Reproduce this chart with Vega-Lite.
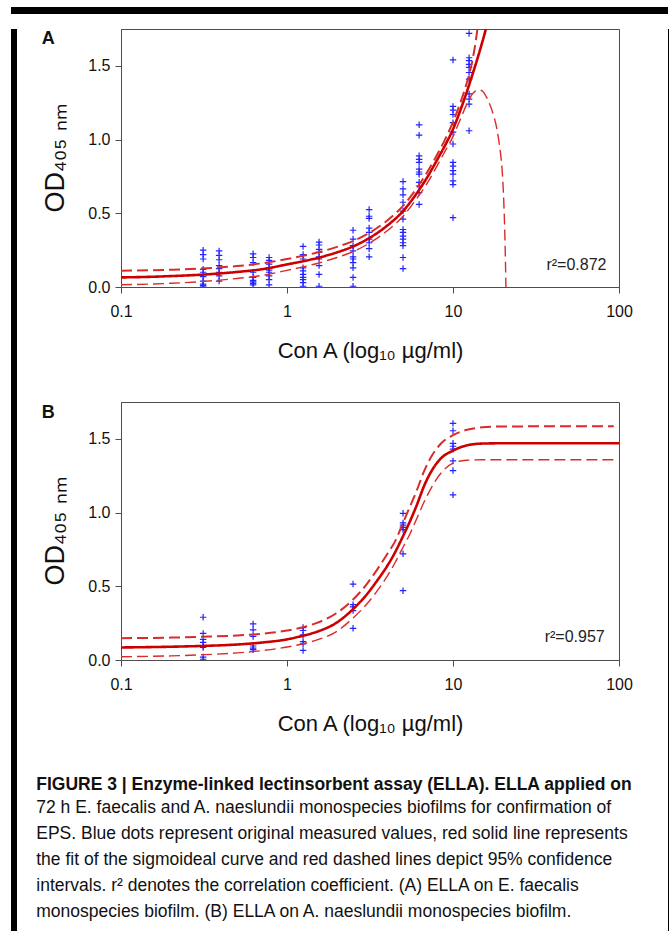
{
  "$schema": "https://vega.github.io/schema/vega-lite/v6.json",
  "padding": {"left": 11, "top": 7, "right": 0, "bottom": 0},
  "background": "white",
  "config": {
    "font": "Liberation Sans",
    "view": {"stroke": "#4d4d4d", "strokeWidth": 1},
    "axis": {"grid": false, "domainColor": "#4d4d4d", "tickColor": "#4d4d4d", "tickSize": 6, "labelFont": "Liberation Sans", "labelFontSize": 16, "labelColor": "#111111", "titleFont": "Liberation Sans", "titleFontWeight": "normal", "titleColor": "#111111", "labelFlush": false}
  },
  "datasets": {
    "A_pts": [
      {"x":0.3125,"y":0.25},{"x":0.3125,"y":0.22},{"x":0.3125,"y":0.19},{"x":0.3125,"y":0.12},{"x":0.3125,"y":0.10},{"x":0.3125,"y":0.07},{"x":0.3125,"y":0.04},{"x":0.3125,"y":0.02},{"x":0.3125,"y":0.01},{"x":0.3125,"y":0.0},
      {"x":0.39,"y":0.245},{"x":0.39,"y":0.215},{"x":0.39,"y":0.185},{"x":0.39,"y":0.145},{"x":0.39,"y":0.125},{"x":0.39,"y":0.10},{"x":0.39,"y":0.075},{"x":0.39,"y":0.04},
      {"x":0.625,"y":0.225},{"x":0.625,"y":0.20},{"x":0.625,"y":0.165},{"x":0.625,"y":0.10},{"x":0.625,"y":0.065},{"x":0.625,"y":0.045},{"x":0.625,"y":0.035},{"x":0.625,"y":0.025},{"x":0.625,"y":0.015},
      {"x":0.78,"y":0.20},{"x":0.78,"y":0.18},{"x":0.78,"y":0.155},{"x":0.78,"y":0.13},{"x":0.78,"y":0.115},{"x":0.78,"y":0.10},{"x":0.78,"y":0.075},{"x":0.78,"y":0.05},{"x":0.78,"y":0.015},
      {"x":1.25,"y":0.275},{"x":1.25,"y":0.22},{"x":1.25,"y":0.19},{"x":1.25,"y":0.13},{"x":1.25,"y":0.11},{"x":1.25,"y":0.085},{"x":1.25,"y":0.065},{"x":1.25,"y":0.05},{"x":1.25,"y":0.03},{"x":1.25,"y":0.005},
      {"x":1.56,"y":0.305},{"x":1.56,"y":0.285},{"x":1.56,"y":0.255},{"x":1.56,"y":0.235},{"x":1.56,"y":0.205},{"x":1.56,"y":0.19},{"x":1.56,"y":0.145},{"x":1.56,"y":0.085},{"x":1.56,"y":0.005},
      {"x":2.5,"y":0.385},{"x":2.5,"y":0.325},{"x":2.5,"y":0.28},{"x":2.5,"y":0.245},{"x":2.5,"y":0.205},{"x":2.5,"y":0.19},{"x":2.5,"y":0.165},{"x":2.5,"y":0.13},{"x":2.5,"y":0.065},{"x":2.5,"y":0.005},
      {"x":3.125,"y":0.525},{"x":3.125,"y":0.48},{"x":3.125,"y":0.465},{"x":3.125,"y":0.40},{"x":3.125,"y":0.37},{"x":3.125,"y":0.325},{"x":3.125,"y":0.30},{"x":3.125,"y":0.26},{"x":3.125,"y":0.205},
      {"x":5,"y":0.715},{"x":5,"y":0.665},{"x":5,"y":0.625},{"x":5,"y":0.575},{"x":5,"y":0.515},{"x":5,"y":0.46},{"x":5,"y":0.39},{"x":5,"y":0.37},{"x":5,"y":0.345},{"x":5,"y":0.325},{"x":5,"y":0.30},{"x":5,"y":0.28},{"x":5,"y":0.20},{"x":5,"y":0.125},
      {"x":6.25,"y":1.10},{"x":6.25,"y":1.03},{"x":6.25,"y":0.89},{"x":6.25,"y":0.865},{"x":6.25,"y":0.845},{"x":6.25,"y":0.80},{"x":6.25,"y":0.78},{"x":6.25,"y":0.765},{"x":6.25,"y":0.71},{"x":6.25,"y":0.685},{"x":6.25,"y":0.64},{"x":6.25,"y":0.56},
      {"x":10,"y":1.54},{"x":10,"y":1.225},{"x":10,"y":1.20},{"x":10,"y":1.17},{"x":10,"y":1.115},{"x":10,"y":1.05},{"x":10,"y":0.97},{"x":10,"y":0.845},{"x":10,"y":0.82},{"x":10,"y":0.79},{"x":10,"y":0.765},{"x":10,"y":0.72},{"x":10,"y":0.695},{"x":10,"y":0.47},
      {"x":12.5,"y":1.72},{"x":12.5,"y":1.555},{"x":12.5,"y":1.535},{"x":12.5,"y":1.51},{"x":12.5,"y":1.49},{"x":12.5,"y":1.455},{"x":12.5,"y":1.41},{"x":12.5,"y":1.31},{"x":12.5,"y":1.275},{"x":12.5,"y":1.24},{"x":12.5,"y":1.06}
    ],
    "A_fit": [
      {"s":"fit","x":0.1,"y":0.065},{"s":"fit","x":0.15,"y":0.069},{"s":"fit","x":0.2,"y":0.074},{"s":"fit","x":0.3,"y":0.083},{"s":"fit","x":0.5,"y":0.102},{"s":"fit","x":0.7,"y":0.12},{"s":"fit","x":1,"y":0.153},{"s":"fit","x":1.5,"y":0.195},{"s":"fit","x":2,"y":0.235},{"s":"fit","x":2.5,"y":0.275},{"s":"fit","x":3,"y":0.32},{"s":"fit","x":4,"y":0.415},{"s":"fit","x":5,"y":0.515},{"s":"fit","x":6,"y":0.63},{"s":"fit","x":7,"y":0.745},{"s":"fit","x":8,"y":0.86},{"s":"fit","x":9,"y":0.965},{"s":"fit","x":10,"y":1.07},{"s":"fit","x":11,"y":1.19},{"s":"fit","x":12,"y":1.31},{"s":"fit","x":13,"y":1.43},{"s":"fit","x":14,"y":1.545},{"s":"fit","x":15,"y":1.66},{"s":"fit","x":16,"y":1.775},
      {"s":"upper","x":0.1,"y":0.11},{"s":"upper","x":0.2,"y":0.117},{"s":"upper","x":0.3,"y":0.125},{"s":"upper","x":0.5,"y":0.142},{"s":"upper","x":0.7,"y":0.16},{"s":"upper","x":1,"y":0.19},{"s":"upper","x":1.5,"y":0.232},{"s":"upper","x":2,"y":0.272},{"s":"upper","x":2.5,"y":0.312},{"s":"upper","x":3,"y":0.355},{"s":"upper","x":4,"y":0.45},{"s":"upper","x":5,"y":0.55},{"s":"upper","x":6,"y":0.665},{"s":"upper","x":7,"y":0.78},{"s":"upper","x":8,"y":0.895},{"s":"upper","x":9,"y":1.005},{"s":"upper","x":10,"y":1.12},{"s":"upper","x":11,"y":1.24},{"s":"upper","x":12,"y":1.37},{"s":"upper","x":13,"y":1.52},{"s":"upper","x":13.5,"y":1.62},{"s":"upper","x":14,"y":1.74},{"s":"upper","x":14.5,"y":1.87},
      {"s":"lower","x":0.1,"y":0.015},{"s":"lower","x":0.2,"y":0.025},{"s":"lower","x":0.3,"y":0.036},{"s":"lower","x":0.5,"y":0.058},{"s":"lower","x":0.7,"y":0.078},{"s":"lower","x":1,"y":0.113},{"s":"lower","x":1.5,"y":0.158},{"s":"lower","x":2,"y":0.2},{"s":"lower","x":2.5,"y":0.24},{"s":"lower","x":3,"y":0.285},{"s":"lower","x":4,"y":0.38},{"s":"lower","x":5,"y":0.48},{"s":"lower","x":6,"y":0.595},{"s":"lower","x":7,"y":0.705},{"s":"lower","x":8,"y":0.82},{"s":"lower","x":9,"y":0.925},{"s":"lower","x":10,"y":1.02},{"s":"lower","x":11,"y":1.13},{"s":"lower","x":12,"y":1.23},{"s":"lower","x":12.5,"y":1.27},{"s":"lower","x":13,"y":1.305},{"s":"lower","x":13.5,"y":1.325},{"s":"lower","x":14,"y":1.334},{"s":"lower","x":14.4,"y":1.336},{"s":"lower","x":15,"y":1.33},{"s":"lower","x":15.5,"y":1.31},{"s":"lower","x":16.5,"y":1.25},{"s":"lower","x":17.5,"y":1.17},{"s":"lower","x":18.4,"y":1.07},{"s":"lower","x":19,"y":0.97},{"s":"lower","x":19.5,"y":0.87},{"s":"lower","x":19.75,"y":0.8},{"s":"lower","x":20.1,"y":0.65},{"s":"lower","x":20.4,"y":0.46},{"s":"lower","x":20.6,"y":0.28},{"s":"lower","x":20.8,"y":0.05},{"s":"lower","x":20.9,"y":-0.1}
    ],
    "B_pts": [
      {"x":0.3125,"y":0.29},{"x":0.3125,"y":0.18},{"x":0.3125,"y":0.14},{"x":0.3125,"y":0.12},{"x":0.3125,"y":0.095},{"x":0.3125,"y":0.085},{"x":0.3125,"y":0.02},{"x":0.3125,"y":0.005},
      {"x":0.625,"y":0.245},{"x":0.625,"y":0.205},{"x":0.625,"y":0.16},{"x":0.625,"y":0.095},{"x":0.625,"y":0.08},{"x":0.625,"y":0.07},
      {"x":1.25,"y":0.22},{"x":1.25,"y":0.20},{"x":1.25,"y":0.17},{"x":1.25,"y":0.125},{"x":1.25,"y":0.11},{"x":1.25,"y":0.065},
      {"x":2.5,"y":0.515},{"x":2.5,"y":0.375},{"x":2.5,"y":0.36},{"x":2.5,"y":0.335},{"x":2.5,"y":0.215},
      {"x":5,"y":0.995},{"x":5,"y":0.93},{"x":5,"y":0.915},{"x":5,"y":0.90},{"x":5,"y":0.885},{"x":5,"y":0.72},{"x":5,"y":0.47},
      {"x":10,"y":1.605},{"x":10,"y":1.555},{"x":10,"y":1.47},{"x":10,"y":1.45},{"x":10,"y":1.43},{"x":10,"y":1.35},{"x":10,"y":1.285},{"x":10,"y":1.12}
    ],
    "B_fit": [
      {"s":"fit","x":0.1,"y":0.085},{"s":"fit","x":0.2,"y":0.09},{"s":"fit","x":0.3,"y":0.095},{"s":"fit","x":0.5,"y":0.105},{"s":"fit","x":0.7,"y":0.118},{"s":"fit","x":1,"y":0.14},{"s":"fit","x":1.25,"y":0.165},{"s":"fit","x":1.5,"y":0.19},{"s":"fit","x":2,"y":0.255},{"s":"fit","x":2.5,"y":0.345},{"s":"fit","x":3,"y":0.44},{"s":"fit","x":3.5,"y":0.54},{"s":"fit","x":4,"y":0.635},{"s":"fit","x":4.5,"y":0.735},{"s":"fit","x":5,"y":0.84},{"s":"fit","x":5.5,"y":0.94},{"s":"fit","x":6,"y":1.04},{"s":"fit","x":6.75,"y":1.19},{"s":"fit","x":7.5,"y":1.29},{"s":"fit","x":8.5,"y":1.37},{"s":"fit","x":10,"y":1.42},{"s":"fit","x":12,"y":1.455},{"s":"fit","x":15,"y":1.468},{"s":"fit","x":20,"y":1.47},{"s":"fit","x":40,"y":1.47},{"s":"fit","x":100,"y":1.47},
      {"s":"upper","x":0.1,"y":0.148},{"s":"upper","x":0.2,"y":0.152},{"s":"upper","x":0.3,"y":0.157},{"s":"upper","x":0.5,"y":0.166},{"s":"upper","x":0.7,"y":0.178},{"s":"upper","x":1,"y":0.2},{"s":"upper","x":1.25,"y":0.222},{"s":"upper","x":1.5,"y":0.25},{"s":"upper","x":2,"y":0.32},{"s":"upper","x":2.5,"y":0.41},{"s":"upper","x":3,"y":0.51},{"s":"upper","x":3.5,"y":0.615},{"s":"upper","x":4,"y":0.715},{"s":"upper","x":4.5,"y":0.81},{"s":"upper","x":5,"y":0.93},{"s":"upper","x":5.5,"y":1.04},{"s":"upper","x":6,"y":1.14},{"s":"upper","x":6.75,"y":1.29},{"s":"upper","x":7.5,"y":1.39},{"s":"upper","x":8.5,"y":1.47},{"s":"upper","x":10,"y":1.525},{"s":"upper","x":12,"y":1.56},{"s":"upper","x":15,"y":1.578},{"s":"upper","x":20,"y":1.584},{"s":"upper","x":40,"y":1.585},{"s":"upper","x":93,"y":1.585},
      {"s":"lower","x":0.1,"y":0.022},{"s":"lower","x":0.2,"y":0.028},{"s":"lower","x":0.3,"y":0.035},{"s":"lower","x":0.5,"y":0.048},{"s":"lower","x":0.7,"y":0.063},{"s":"lower","x":1,"y":0.088},{"s":"lower","x":1.25,"y":0.11},{"s":"lower","x":1.5,"y":0.135},{"s":"lower","x":2,"y":0.195},{"s":"lower","x":2.5,"y":0.285},{"s":"lower","x":3,"y":0.375},{"s":"lower","x":3.5,"y":0.47},{"s":"lower","x":4,"y":0.565},{"s":"lower","x":4.5,"y":0.665},{"s":"lower","x":5,"y":0.765},{"s":"lower","x":5.5,"y":0.855},{"s":"lower","x":6,"y":0.95},{"s":"lower","x":6.75,"y":1.08},{"s":"lower","x":7.5,"y":1.18},{"s":"lower","x":8.5,"y":1.27},{"s":"lower","x":10,"y":1.335},{"s":"lower","x":12,"y":1.355},{"s":"lower","x":15,"y":1.358},{"s":"lower","x":40,"y":1.358},{"s":"lower","x":93,"y":1.358}
    ],
    "A_r2": [{"x": 84, "y": 0.15, "t": "r²=0.872"}],
    "B_r2": [{"x": 82, "y": 0.155, "t": "r²=0.957"}]
  },
  "spacing": 14,
  "vconcat": [
    {"data": {"values": []}, "mark": "rect", "encoding": {}, "width": 657, "height": 7, "view": {"fill": "black", "stroke": null}},
    {
      "spacing": 19,
      "hconcat": [
        {"data": {"values": []}, "mark": "rect", "encoding": {}, "width": 6, "height": 921, "view": {"fill": "black", "stroke": null}},
        {
          "spacing": 35,
          "hconcat": [
            {
              "spacing": 39,
              "title": {
                "text": "FIGURE 3 | Enzyme-linked lectinsorbent assay (ELLA). ELLA applied on",
                "subtitle": [
                  "72 h E. faecalis and A. naeslundii monospecies biofilms for confirmation of",
                  "EPS. Blue dots represent original measured values, red solid line represents",
                  "the fit of the sigmoideal curve and red dashed lines depict 95% confidence",
                  "intervals. r² denotes the correlation coefficient. (A) ELLA on E. faecalis",
                  "monospecies biofilm. (B) ELLA on A. naeslundii monospecies biofilm."
                ],
                "orient": "bottom", "anchor": "start", "frame": "bounds", "offset": 41, "dx": -5,
                "font": "Liberation Sans", "fontSize": 17.5, "fontWeight": "bold", "color": "#111111",
                "subtitleFont": "Liberation Sans", "subtitleFontSize": 17.5, "subtitleColor": "#111111",
                "subtitleLineHeight": 26, "subtitlePadding": 6, "lineHeight": 26
              },
              "vconcat": [
                {
                  "title": {"text": "A", "anchor": "start", "frame": "bounds", "fontSize": 18, "fontWeight": "bold", "color": "#111111", "dy": 19, "offset": 0},
                  "width": 498, "height": 258,
                  "layer": [
                    {"data": {"name": "A_pts"},
                     "mark": {"type": "point", "shape": "M-1,0L1,0M0,-1L0,1", "filled": false, "stroke": "#2323ff", "strokeWidth": 1.2, "size": 42, "opacity": 1, "clip": true},
                     "encoding": {
                       "x": {"field": "x", "type": "quantitative", "scale": {"type": "log", "domain": [0.1, 100], "nice": false}, "axis": {"values": [0.1, 1, 10, 100], "format": "~g", "title": "Con A (log₁₀ µg/ml)", "titleFontSize": 22, "labelPadding": 10, "titlePadding": 21}},
                       "y": {"field": "y", "type": "quantitative", "scale": {"domain": [0, 1.75], "nice": false}, "axis": {"values": [0, 0.5, 1, 1.5], "format": ".1f", "title": "OD₄₀₅ ₙₘ", "titleFontSize": 27, "labelPadding": 5, "titlePadding": 18}}
                     }},
                    {"data": {"name": "A_fit"},
                     "mark": {"type": "line", "clip": true, "interpolate": "monotone"},
                     "encoding": {
                       "x": {"field": "x", "type": "quantitative"},
                       "y": {"field": "y", "type": "quantitative"},
                       "detail": {"field": "s"},
                       "color": {"field": "s", "type": "nominal", "scale": {"domain": ["fit", "upper", "lower"], "range": ["#cc0000", "#d92b2b", "#d92b2b"]}, "legend": null},
                       "strokeDash": {"field": "s", "type": "nominal", "scale": {"domain": ["fit", "upper", "lower"], "range": [[1, 0], [11, 5], [11, 5]]}, "legend": null},
                       "strokeWidth": {"field": "s", "type": "nominal", "scale": {"domain": ["fit", "upper", "lower"], "range": [2.6, 1.4, 1.4]}, "legend": null}
                     }},
                    {"data": {"name": "A_r2"},
                     "mark": {"type": "text", "align": "right", "baseline": "middle", "fontSize": 16, "font": "Liberation Sans", "color": "#222222"},
                     "encoding": {"x": {"field": "x", "type": "quantitative"}, "y": {"field": "y", "type": "quantitative"}, "text": {"field": "t"}}}
                  ]
                },
                {
                  "title": {"text": "B", "anchor": "start", "frame": "bounds", "fontSize": 18, "fontWeight": "bold", "color": "#111111", "dy": 20, "offset": 0},
                  "width": 498, "height": 258,
                  "layer": [
                    {"data": {"name": "B_pts"},
                     "mark": {"type": "point", "shape": "M-1,0L1,0M0,-1L0,1", "filled": false, "stroke": "#2323ff", "strokeWidth": 1.2, "size": 42, "opacity": 1, "clip": true},
                     "encoding": {
                       "x": {"field": "x", "type": "quantitative", "scale": {"type": "log", "domain": [0.1, 100], "nice": false}, "axis": {"values": [0.1, 1, 10, 100], "format": "~g", "title": "Con A (log₁₀ µg/ml)", "titleFontSize": 22, "labelPadding": 10, "titlePadding": 21}},
                       "y": {"field": "y", "type": "quantitative", "scale": {"domain": [0, 1.75], "nice": false}, "axis": {"values": [0, 0.5, 1, 1.5], "format": ".1f", "title": "OD₄₀₅ ₙₘ", "titleFontSize": 27, "labelPadding": 5, "titlePadding": 18}}
                     }},
                    {"data": {"name": "B_fit"},
                     "mark": {"type": "line", "clip": true, "interpolate": "monotone"},
                     "encoding": {
                       "x": {"field": "x", "type": "quantitative"},
                       "y": {"field": "y", "type": "quantitative"},
                       "detail": {"field": "s"},
                       "color": {"field": "s", "type": "nominal", "scale": {"domain": ["fit", "upper", "lower"], "range": ["#cc0000", "#d92b2b", "#d92b2b"]}, "legend": null},
                       "strokeDash": {"field": "s", "type": "nominal", "scale": {"domain": ["fit", "upper", "lower"], "range": [[1, 0], [11, 5], [11, 5]]}, "legend": null},
                       "strokeWidth": {"field": "s", "type": "nominal", "scale": {"domain": ["fit", "upper", "lower"], "range": [2.6, 1.4, 1.4]}, "legend": null}
                     }},
                    {"data": {"name": "B_r2"},
                     "mark": {"type": "text", "align": "right", "baseline": "middle", "fontSize": 16, "font": "Liberation Sans", "color": "#222222"},
                     "encoding": {"x": {"field": "x", "type": "quantitative"}, "y": {"field": "y", "type": "quantitative"}, "text": {"field": "t"}}}
                  ]
                }
              ]
            },
            {"data": {"values": []}, "mark": "rect", "encoding": {}, "width": 6, "height": 921, "view": {"fill": "black", "stroke": null}}
          ]
        }
      ]
    }
  ]
}
